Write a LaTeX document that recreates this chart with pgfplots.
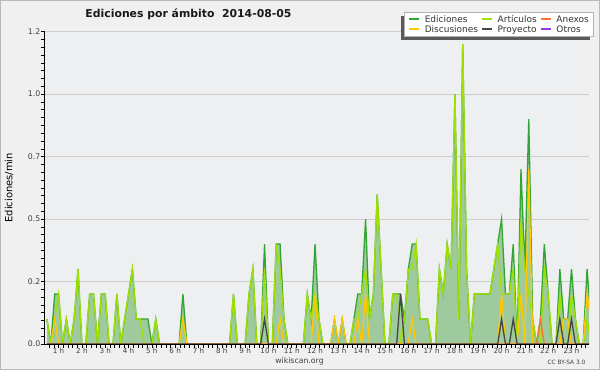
\documentclass[border=0pt]{standalone}
\usepackage{pgfplots}
\pgfplotsset{compat=1.18}
\usepackage{pgfplotstable}
\usepackage{fontspec}
\setmainfont{DejaVu Sans}
\newfontfamily\monofont{DejaVu Sans Mono}

\definecolor{cE}{RGB}{51,165,51}
\definecolor{cEfill}{RGB}{158,202,158}
\definecolor{cA}{RGB}{160,225,0}
\definecolor{cD}{RGB}{255,200,0}
\definecolor{cAn}{RGB}{255,115,45}
\definecolor{cP}{RGB}{70,70,70}
\definecolor{cO}{RGB}{150,60,230}
\definecolor{plotbg}{RGB}{237,239,241}
\definecolor{pagebg}{RGB}{240,240,240}
\definecolor{gridc}{RGB}{205,205,205}

\pgfplotstableread{
i E A D An P
0 0.1 0.1 0 0 0
1 0 0 0 0 0
2 0.2 0.1 0.1 0 0
3 0.2 0.2 0 0 0
4 0 0 0 0 0
5 0.1 0.1 0 0 0
6 0 0 0 0 0
7 0.1 0.1 0 0 0
8 0.3 0.3 0 0 0
9 0 0 0 0 0
10 0 0 0 0 0
11 0.2 0.2 0 0 0
12 0.2 0.2 0 0 0
13 0 0 0 0 0
14 0.2 0.2 0 0 0
15 0.2 0.2 0 0 0
16 0 0 0 0 0
17 0 0 0 0 0
18 0.2 0.2 0 0 0
19 0 0 0 0 0
20 0.1 0.1 0 0 0
21 0.2 0.2 0 0 0
22 0.3 0.3 0 0 0
23 0.1 0.1 0 0 0
24 0.1 0.1 0 0 0
25 0.1 0 0 0 0
26 0.1 0 0 0 0
27 0 0 0 0 0
28 0.1 0.1 0 0 0
29 0 0 0 0 0
30 0 0 0 0 0
31 0 0 0 0 0
32 0 0 0 0 0
33 0 0 0 0 0
34 0 0 0 0 0
35 0.2 0.1 0.1 0 0
36 0 0 0 0 0
37 0 0 0 0 0
38 0 0 0 0 0
39 0 0 0 0 0
40 0 0 0 0 0
41 0 0 0 0 0
42 0 0 0 0 0
43 0 0 0 0 0
44 0 0 0 0 0
45 0 0 0 0 0
46 0 0 0 0 0
47 0 0 0 0 0
48 0.2 0.2 0 0 0
49 0 0 0 0 0
50 0 0 0 0 0
51 0 0 0 0 0
52 0.2 0.2 0 0 0
53 0.3 0.3 0 0 0
54 0 0 0 0 0
55 0 0 0 0 0
56 0.4 0.3 0 0 0.1
57 0 0 0 0 0
58 0 0 0 0 0
59 0.4 0.4 0 0 0
60 0.4 0.3 0.1 0 0
61 0.1 0.1 0 0 0
62 0 0 0 0 0
63 0 0 0 0 0
64 0 0 0 0 0
65 0 0 0 0 0
66 0 0 0 0 0
67 0.2 0.2 0 0 0
68 0.1 0.1 0 0 0
69 0.4 0.2 0.2 0 0
70 0.1 0.1 0 0 0
71 0 0 0 0 0
72 0 0 0 0 0
73 0 0 0 0 0
74 0.1 0 0.1 0 0
75 0 0 0 0 0
76 0.1 0 0.1 0 0
77 0 0 0 0 0
78 0 0 0 0 0
79 0.1 0.1 0 0 0
80 0.2 0.1 0.1 0 0
81 0.2 0.2 0 0 0
82 0.5 0.3 0.2 0 0
83 0.1 0.1 0 0 0
84 0.2 0.2 0 0 0
85 0.6 0.6 0 0 0
86 0.3 0.3 0 0 0
87 0 0 0 0 0
88 0 0 0 0 0
89 0.2 0.2 0 0 0
90 0.2 0.2 0 0 0
91 0.2 0 0 0 0.2
92 0.1 0.1 0 0 0
93 0.3 0.3 0 0 0
94 0.4 0.3 0.1 0 0
95 0.4 0.4 0 0 0
96 0.1 0.1 0 0 0
97 0.1 0.1 0 0 0
98 0.1 0.1 0 0 0
99 0 0 0 0 0
100 0 0 0 0 0
101 0.3 0.3 0 0 0
102 0.2 0.2 0 0 0
103 0.4 0.4 0 0 0
104 0.3 0.3 0 0 0
105 1.0 1.0 0 0 0
106 0.1 0.1 0 0 0
107 1.2 1.2 0 0 0
108 0.3 0.3 0 0 0
109 0 0 0 0 0
110 0.2 0.2 0 0 0
111 0.2 0.2 0 0 0
112 0.2 0.2 0 0 0
113 0.2 0.2 0 0 0
114 0.2 0.2 0 0 0
115 0.3 0.3 0 0 0
116 0.4 0.4 0 0 0
117 0.5 0.2 0.2 0 0.1
118 0.2 0.2 0 0 0
119 0.2 0.2 0 0 0
120 0.4 0.3 0 0 0.1
121 0 0 0 0 0
122 0.7 0.5 0.2 0 0
123 0.3 0.3 0 0 0
124 0.9 0.2 0.7 0 0
125 0.1 0.1 0 0 0
126 0 0 0 0 0
127 0.1 0 0 0.1 0
128 0.4 0.3 0 0 0
129 0.2 0.2 0 0 0
130 0 0 0 0 0
131 0 0 0 0 0
132 0.3 0.2 0 0 0.1
133 0.1 0 0.1 0 0
134 0.1 0 0.1 0 0
135 0.3 0.2 0 0 0.1
136 0.1 0.1 0 0 0
137 0 0 0 0 0
138 0 0 0 0 0
139 0.3 0.1 0.2 0 0
140 0.1 0 0.1 0 0
}\data

\begin{document}
\begin{tikzpicture}
\useasboundingbox (-45bp,-26bp) rectangle (555bp,344bp);
\fill[pagebg] (-45bp,-26bp) rectangle (555bp,344bp);
\draw[gray!55, line width=1bp] (-44.5bp,-25.5bp) rectangle (554.5bp,343.5bp);
\begin{axis}[
  at={(0,0)}, anchor=south west,
  width=544bp, height=312.3bp, scale only axis,
  xmin=-0.5, xmax=139.5, ymin=0, ymax=1.25,
  clip mode=individual,
  axis x line*=bottom, axis y line*=left,
  axis line style={black, line width=1bp},
  axis background/.style={fill=plotbg},
  ymajorgrids, major grid style={gridc, line width=0.8bp},
  ytick={0,0.25,0.5,0.75,1,1.25},
  yticklabels={0.0,0.2,0.5,0.7,1.0,1.2},
  minor y tick num=7,
  xtick={3,9,...,135},
  xticklabels={1 h,2 h,3 h,4 h,5 h,6 h,7 h,8 h,9 h,10 h,11 h,12 h,13 h,14 h,15 h,16 h,17 h,18 h,19 h,20 h,21 h,22 h,23 h},
  minor xtick={0.6,1.8,...,138.6},
  tick align=outside,
  tick style={black, line width=0.6bp},
  major tick length=4bp, minor tick length=4bp,
  xticklabel style={font=\fontsize{7.2}{8}\selectfont, text=black!75, anchor=north, inner sep=0pt, yshift=0.6bp},
  yticklabel style={font=\fontsize{7.8}{9}\selectfont, text=black!75, anchor=east, inner sep=0pt, xshift=-0.5bp},
  ylabel={Ediciones/min},
  ylabel style={font=\monofont\fontsize{9.8}{11}\selectfont, text=black!85},
  every axis y label/.style={at={(axis description cs:-0.0662,0.5)}, rotate=90, anchor=center},
  title={Ediciones por ámbito\ \ 2014-08-05},
  title style={at={(axis description cs:0.2638,1.0567)}, anchor=center, yshift=-6pt, font=\bfseries\fontsize{10.9}{12}\selectfont, text=black!90},
  legend columns=3,
  legend cell align=left,
  legend image code/.code={\draw[#1, line width=1.7bp] (0bp,0.5bp) -- (10bp,0.5bp);},
  legend style={
    at={(axis description cs:1.0074,1.0608)}, anchor=north east,
    draw=none, fill=none,
    font=\fontsize{9}{10}\selectfont, text=black!80,
    inner xsep=2bp, inner ysep=0.5bp, row sep=-2.5bp,
    /tikz/every odd column/.append style={column sep=3bp},
    /tikz/every even column/.append style={column sep=1bp},
  },
]
\addlegendimage{cE}
\addlegendimage{cA}
\addlegendimage{cAn}
\addlegendimage{cD}
\addlegendimage{cP}
\addlegendimage{cO}
\legend{Ediciones,Artículos,Anexos,Discusiones,Proyecto,Otros}

\addplot[forget plot, fill=cEfill, draw=none] table[x=i, y=E] {\data} \closedcycle;
\addplot[forget plot, cE, line width=1.3bp] table[x=i, y=E] {\data};
\addplot[forget plot, cA, line width=1.3bp] table[x=i, y=A] {\data};
\addplot[forget plot, cD, line width=1.3bp] table[x=i, y=D] {\data};
\addplot[forget plot, cAn, line width=1.3bp] table[x=i, y=An] {\data};
\addplot[forget plot, cP, line width=1.3bp] table[x=i, y=P] {\data};
\draw[black, line width=1bp] (rel axis cs:0,0) -- (rel axis cs:1,0);
\fill[black!65] (axis description cs:0.6539,0.9720) rectangle (axis description cs:1.0013,1.0503);
\filldraw[fill=white, draw=gray!60, line width=0.6bp] (axis description cs:0.6599,0.9840) rectangle (axis description cs:1.0074,1.0608);
\end{axis}
\node[font=\fontsize{7.8}{9}\selectfont, text=black!75] at (254.5bp,-17.7bp) {wikiscan.org};
\node[font=\fontsize{5.9}{7}\selectfont, text=black!75, anchor=east] at (544bp,-18.7bp) {CC BY-SA 3.0};
\end{tikzpicture}
\end{document}
